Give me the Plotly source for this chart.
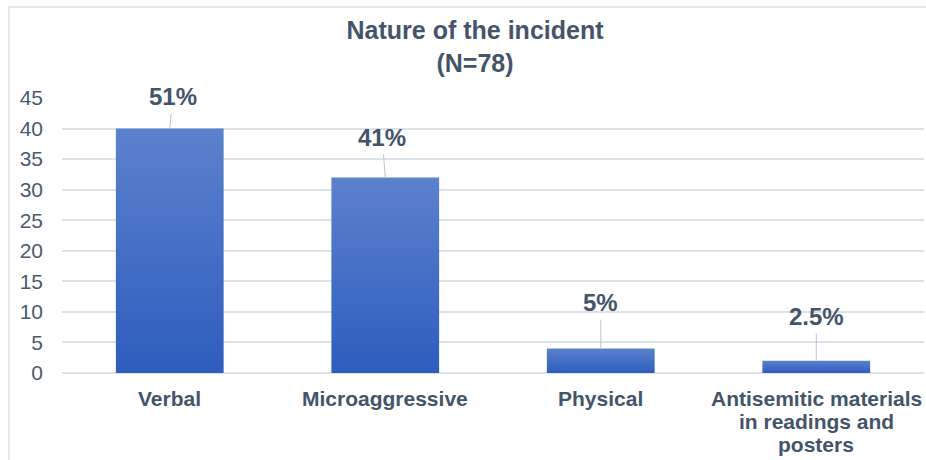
import plotly.graph_objects as go

# Survey data: nature of reported incidents (N=78)
categories = ["Verbal", "Microaggressive", "Physical",
              "Antisemitic materials<br>in readings and<br>posters"]
counts = [40, 32, 4, 2]
pct_labels = ["51%", "41%", "5%", "2.5%"]
y_ticks = [0, 5, 10, 15, 20, 25, 30, 35, 40, 45]

TEXT = "#44546A"
GRID = "#DDE2EA"
FONT = "Liberation Sans, Arial, sans-serif"
HALF_W = 0.25

# pixel offsets for the data-label callouts (dx, dy)
label_offsets = [(3, -32), (-3, -40), (0, -46), (0, -44)]

fig = go.Figure()

# Each bar is a filled rectangle with a vertical gradient (dark at base, light at top)
for i, (cat, val) in enumerate(zip(categories, counts)):
    fig.add_trace(go.Scatter(
        x=[i - HALF_W, i - HALF_W, i + HALF_W, i + HALF_W, i - HALF_W],
        y=[0, val, val, 0, 0],
        mode="lines",
        line=dict(width=0, color="#4570C8"),
        fill="toself",
        fillgradient=dict(type="vertical",
                          colorscale=[[0, "#2E5DBE"], [1, "#5C81CD"]]),
        hoverinfo="skip",
        showlegend=False,
    ))

# Percentage callouts with leader lines
for i, (val, lab) in enumerate(zip(counts, pct_labels)):
    dx, dy = label_offsets[i]
    fig.add_annotation(
        x=i, y=val, xref="x", yref="y",
        text=f"<b>{lab}</b>",
        showarrow=True, arrowhead=0, arrowwidth=1, arrowcolor="#BCC3CF",
        ax=dx, ay=dy, standoff=0, startstandoff=2,
        font=dict(family=FONT, size=24, color=TEXT),
    )

# Category labels under the axis, one line per annotation for tight line spacing
for i, cat in enumerate(categories):
    for k, line in enumerate(cat.split("<br>")):
        fig.add_annotation(
            x=i, y=0, xref="x", yref="y",
            text=f"<b>{line}</b>", showarrow=False,
            xanchor="center", yanchor="middle",
            yshift=-(25 + 23 * k),
            font=dict(family=FONT, size=21, color=TEXT),
        )

# Outer chart frame (left and top edges)
fig.add_shape(
    type="path", xref="paper", yref="paper",
    path="M -0.0615,-0.4 L -0.0615,1.331 L 1.1,1.331",
    line=dict(color="#DCE1E8", width=1.5),
)

fig.update_layout(
    width=926, height=460,
    margin=dict(l=62, r=2, t=98, b=87),
    paper_bgcolor="white", plot_bgcolor="white",
    title=dict(
        text="<b>Nature of the incident<br>(N=78)</b>",
        x=0.513, xanchor="center", y=0.915, yanchor="middle",
        font=dict(family=FONT, size=25, color=TEXT),
    ),
    font=dict(family=FONT, color=TEXT),
    xaxis=dict(
        range=[-0.5, 3.5],
        showticklabels=False,
        showgrid=False, zeroline=False, showline=False,
        ticks="", automargin=False,
        fixedrange=True,
    ),
    yaxis=dict(
        range=[0, 45],
        tickmode="array", tickvals=y_ticks,
        tickfont=dict(family=FONT, size=21, color="#4D5A6E"),
        showgrid=True, gridcolor=GRID, gridwidth=1.5,
        zeroline=True, zerolinecolor=GRID, zerolinewidth=1.5,
        showline=False, ticks="", ticklabelstandoff=18, automargin=False,
        fixedrange=True,
    ),
)

fig.write_html("out.html")
